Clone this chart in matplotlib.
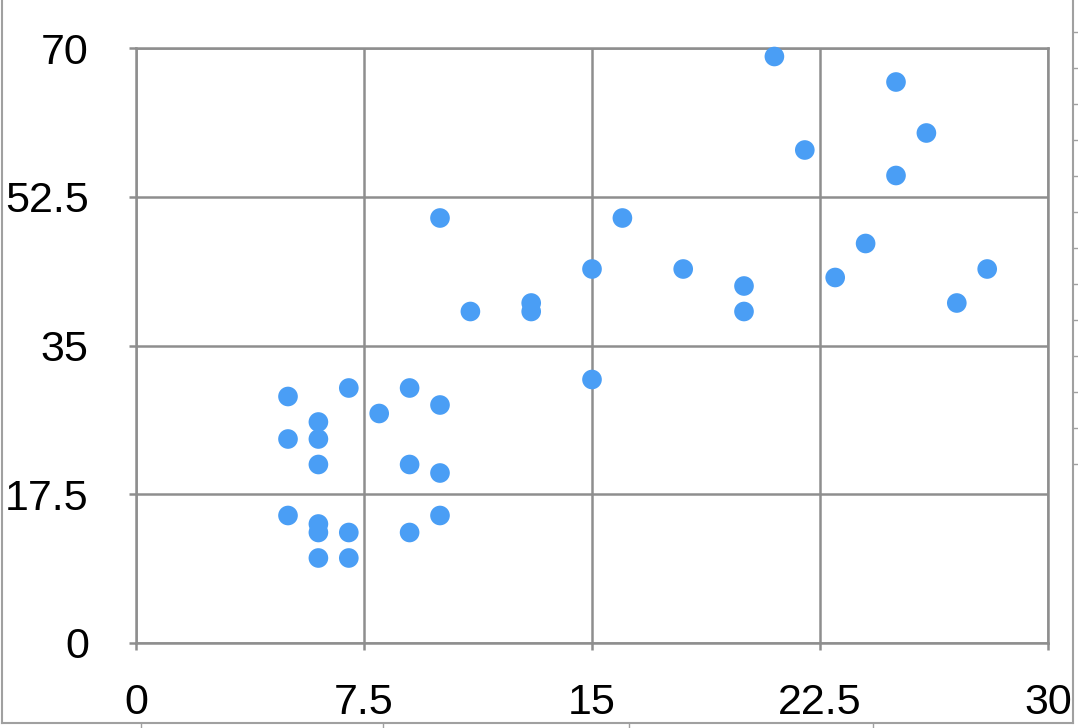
import matplotlib
matplotlib.use("Agg")
import matplotlib.pyplot as plt
from matplotlib.lines import Line2D

x_vals = [5, 5, 5, 6, 6, 6, 6, 6, 6, 7, 7, 7, 8, 9, 9, 9, 10, 10, 10, 10,
          11, 13, 13, 15, 15, 16, 18, 20, 20, 21, 22, 23, 24, 25, 25, 26, 27, 28]
y_vals = [29, 24, 15, 26, 24, 21, 14, 13, 10, 30, 13, 10, 27, 30, 21, 13, 50, 28, 20, 15,
          39, 40, 39, 44, 31, 50, 44, 42, 39, 69, 58, 43, 47, 66, 55, 60, 40, 44]
x_ticks = [0, 7.5, 15, 22.5, 30]
y_ticks = [0, 17.5, 35, 52.5, 70]
x_labels = ["0", "7.5", "15", "22.5", "30"]
y_labels = ["0", "17.5", "35", "52.5", "70"]

W, H = 1078, 728
fig = plt.figure(figsize=(W / 100, H / 100), dpi=100)
left, right, top, bottom = 136, 1048, 48, 643
ax = fig.add_axes([left / W, 1 - bottom / H, (right - left) / W, (bottom - top) / H])

gcol = "#8e8e8e"
lw = 1.8
ax.set_xlim(0, 30)
ax.set_ylim(0, 70)
ax.set_xticks(x_ticks)
ax.set_xticklabels(x_labels)
ax.set_yticks(y_ticks)
ax.set_yticklabels(y_labels)
ax.grid(True, color=gcol, linewidth=lw)
ax.set_axisbelow(True)
for s in ax.spines.values():
    s.set_color(gcol)
    s.set_linewidth(lw)
ax.tick_params(axis="both", colors=gcol, length=5, width=lw, labelcolor="black",
               labelsize=31)
ax.tick_params(axis="x", pad=24)
ax.tick_params(axis="y", pad=29)
for t in ax.get_xticklabels() + ax.get_yticklabels():
    t.set_fontfamily("Liberation Sans")

ax.scatter(x_vals, y_vals, s=200, color="#4a9ef5", edgecolors="none", zorder=3,
           clip_on=False)

# outer frame
fcol = "#a0a0a0"
def fl(xs, ys, w=1.5):
    fig.add_artist(Line2D([v / W for v in xs], [1 - v / H for v in ys],
                          color=fcol, linewidth=w, transform=fig.transFigure))
fl([2, 2], [0, 723])
fl([1073, 1073], [0, 723])
fl([2, 1073], [723, 723])
for yy in range(32, 470, 36):
    fl([1073, 1078], [yy, yy], 1.0)
for xx in [141, 383, 629, 873]:
    fl([xx, xx], [723, 728], 1.0)

fig.savefig("out.png", dpi=100)
